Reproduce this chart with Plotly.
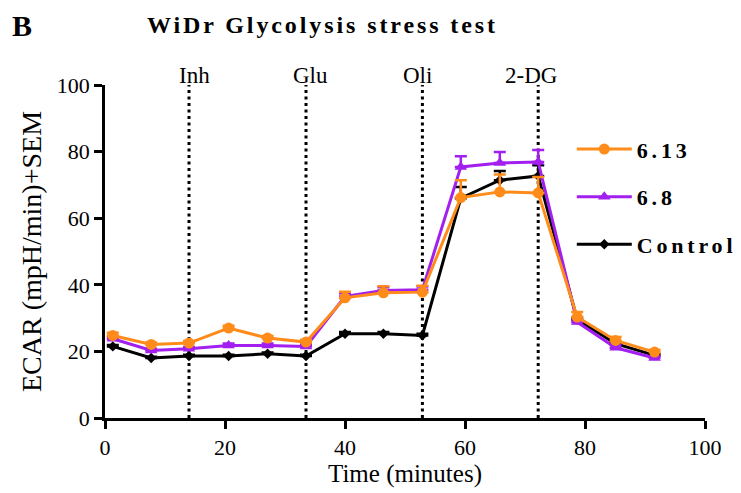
import plotly.graph_objects as go

# ---- data ----
time_min = [1.3, 7.7, 14.0, 20.6, 27.1, 33.5, 40.0, 46.4, 52.9, 59.3, 65.8, 72.2, 78.7, 85.1, 91.6]

ecar_613 = [24.8, 22.1, 22.5, 27.0, 24.0, 22.8, 36.1, 37.6, 37.8, 66.2, 67.9, 67.6, 30.3, 23.3, 19.8]
sem_613 = [0.8, 0.6, 0.6, 0.7, 0.6, 0.6, 1.8, 2.0, 1.9, 5.2, 5.2, 4.8, 1.5, 1.0, 0.6]

ecar_68 = [23.8, 20.3, 20.8, 21.8, 21.8, 21.5, 36.5, 38.3, 38.5, 75.4, 76.6, 76.9, 28.8, 21.1, 18.0]
sem_68 = [0.5, 0.5, 0.5, 0.6, 0.6, 0.6, 1.0, 1.0, 1.0, 3.2, 3.3, 3.6, 0.8, 0.8, 0.5]

ecar_ctrl = [21.5, 18.0, 18.6, 18.6, 19.3, 18.6, 25.3, 25.3, 24.8, 66.0, 71.4, 72.7, 29.6, 22.3, 18.8]
sem_ctrl = [0.4, 0.4, 0.4, 0.4, 0.4, 0.4, 0.5, 0.5, 0.5, 3.4, 2.8, 3.2, 0.6, 0.5, 0.4]

injection_times = [14.0, 33.5, 52.9, 72.2]
injection_labels = ["Inh", "Glu", "Oli", "2-DG"]
injection_label_shift = [5, 4, -5, -7]

x_ticks = [0, 20, 40, 60, 80, 100]
y_ticks = [0, 20, 40, 60, 80, 100]

ORANGE = "#FF8C1A"
PURPLE = "#A21FEF"
BLACK = "#000000"
FONT = "Liberation Serif"

fig = go.Figure()

series = [
    ("Control", ecar_ctrl, sem_ctrl, BLACK, "diamond", 8, 3),
    ("6.8", ecar_68, sem_68, PURPLE, "triangle-up", 11, 2),
    ("6.13", ecar_613, sem_613, ORANGE, "circle", 11, 1),
]
for name, y, e, col, sym, size, rank in series:
    fig.add_trace(go.Scatter(
        x=time_min, y=y, name=name, mode="lines+markers",
        line=dict(color=col, width=3),
        marker=dict(symbol=sym, size=size, color=col),
        error_y=dict(type="data", array=e, arrayminus=[0] * len(e), symmetric=False,
                     color=col, thickness=2.5, width=6),
        legendrank=rank, legendgroup=name,
    ))

shapes = []
annotations = []
for t, lab, sh in zip(injection_times, injection_labels, injection_label_shift):
    shapes.append(dict(type="line", xref="x", yref="y", x0=t, x1=t, y0=0, y1=100,
                       line=dict(color="black", width=3, dash="3px,3.5px"), layer="below"))
    annotations.append(dict(text=lab, x=t, xref="x", y=1, yref="paper", yanchor="bottom",
                            xanchor="center", showarrow=False, yshift=-5, xshift=sh,
                            font=dict(family=FONT, size=23, color="black")))

annotations.append(dict(text="<b>B</b>", x=-0.158, xref="paper", xanchor="left",
                        y=(417.5 - 25.5) / 332.5, yref="paper", yanchor="middle",
                        showarrow=False, font=dict(family=FONT, size=30, color="black")))

fig.update_layout(
    width=741, height=493,
    margin=dict(l=105, r=36, t=85, b=75),
    paper_bgcolor="white", plot_bgcolor="white",
    font=dict(family=FONT, color="black"),
    title=dict(text="WiDr Glycolysis stress test", x=0.07, xref="paper", xanchor="left",
               y=1 - 25 / 493, yref="container", yanchor="middle",
               font=dict(family=FONT, size=24, color="black", weight="bold")),
    xaxis=dict(range=[0, 100], tickvals=x_ticks, showline=True, linecolor="black", linewidth=2.5,
               ticks="outside", ticklen=8, tickwidth=2.5, tickcolor="black", showgrid=False,
               zeroline=False, tickfont=dict(family=FONT, size=22, color="black"),
               title=dict(text="Time (minutes)", font=dict(family=FONT, size=25, color="black"),
                          standoff=4)),
    yaxis=dict(range=[0, 100], tickvals=y_ticks, showline=True, linecolor="black", linewidth=2.5,
               ticks="outside", ticklen=8, tickwidth=2.5, tickcolor="black", showgrid=False,
               zeroline=False, tickfont=dict(family=FONT, size=22, color="black"),
               title=dict(text="ECAR (mpH/min)+SEM", font=dict(family=FONT, size=28, color="black"),
                          standoff=8)),
    legend=dict(x=0.778, xanchor="left", y=0.87, yanchor="top", bgcolor="rgba(0,0,0,0)",
                font=dict(family=FONT, size=22, color="black", weight="bold"),
                tracegroupgap=16, itemwidth=55),
    showlegend=True,
    shapes=shapes, annotations=annotations,
)

post = ("document.body.style.margin='0';"
        "document.querySelectorAll('.legendtext').forEach(e => e.style.letterSpacing='3.8px');"
        "document.querySelectorAll('.legend .scrollbox').forEach(e => e.removeAttribute('clip-path'));"
        "document.querySelectorAll('.gtitle').forEach(e => e.style.letterSpacing='2.9px');")
fig.write_html("out.html", post_script=post, config={"displayModeBar": False})
